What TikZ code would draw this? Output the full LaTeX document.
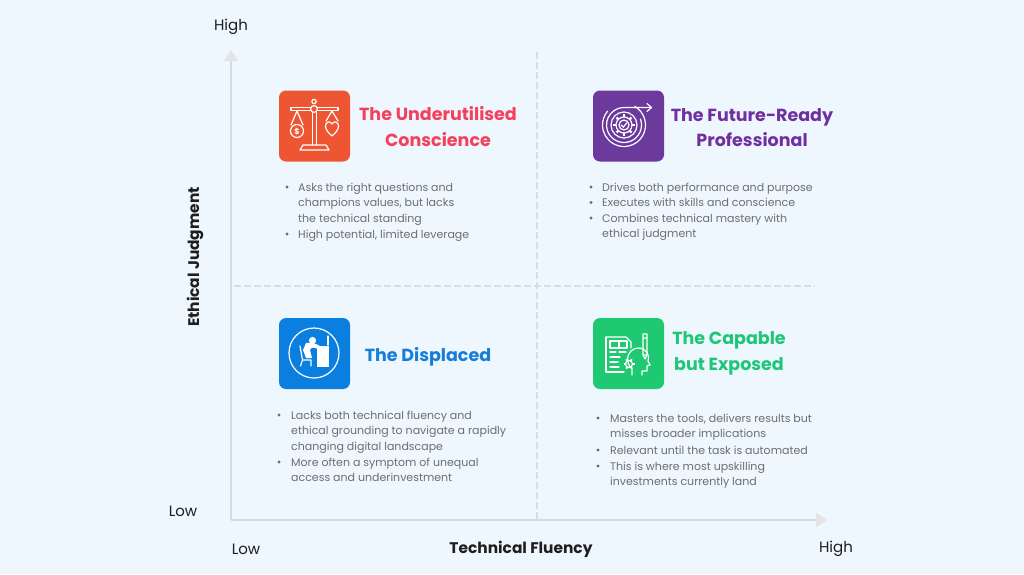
\documentclass[tikz,border=0pt]{standalone}
\usepackage{fontspec}
\setmainfont{Poppins}
\usetikzlibrary{arrows.meta}
\definecolor{bgc}{HTML}{EEF6FE}
\definecolor{axisc}{HTML}{D3DAE3}
\definecolor{tipc}{HTML}{E6E3E3}
\definecolor{dashc}{HTML}{D5DEE8}
\definecolor{txtc}{HTML}{6E6E6E}
\definecolor{labc}{HTML}{1E1E1E}
\definecolor{orbox}{HTML}{EE5532}
\definecolor{ortit}{HTML}{F4405B}
\definecolor{pubox}{HTML}{6C399D}
\definecolor{putit}{HTML}{7030A0}
\definecolor{blbox}{HTML}{0B7FDF}
\definecolor{bltit}{HTML}{167ED8}
\definecolor{grbox}{HTML}{1FC972}
\definecolor{grtit}{HTML}{1EC777}
\begin{document}
\begin{tikzpicture}[x=1pt,y=-1pt,
  axisline/.style={draw=axisc,line width=1.5pt,-{Triangle[length=11pt,width=14pt,color=tipc]}},
  quaddash/.style={draw=dashc,line width=1.2pt,dash pattern=on 7pt off 3pt},
  axlab/.style={text=labc,font=\fontsize{15}{18}\selectfont,inner sep=0pt},
  axtitle/.style={text=labc,font=\bfseries\fontsize{15.4}{18}\selectfont,inner sep=0pt},
  iconbox/.style={rounded corners=7pt,minimum width=71pt,minimum height=71pt,inner sep=0pt},
  qtitle/.style={font=\bfseries\fontsize{17.5}{25.5}\selectfont,align=center,inner sep=0pt},
  btext/.style={text=txtc,font=\fontsize{11}{15.7}\selectfont,align=left,anchor=base west,inner sep=0pt},
  bdot/.style={circle,fill=txtc,minimum size=3.2pt,inner sep=0pt},
  ic/.style={draw=white,line width=1.2pt,line cap=round,line join=round}
]
\useasboundingbox (0,0) rectangle (1024,574);
\fill[bgc] (0,0) rectangle (1024,574);

% axes
\coordinate (O) at (231,520);
\coordinate (ytip) at (231,50);
\coordinate (xtip) at (827,520);
\draw[quaddash] (537,52) coordinate (vd1) -- (537,519) coordinate (vd2);
\draw[quaddash] (234,286) coordinate (hd1) -- (815,286) coordinate (hd2);
\draw[axisline] (O) -- (ytip);
\draw[axisline] (O) -- (xtip);

\node[axlab] (yhigh) at (231,27) {High};
\node[axlab] (ylow) at (183,511) {Low};
\node[axlab] (xlow) at (246,549) {Low};
\node[axlab] (xhigh) at (836,549) {High};
\node[axtitle] (xtitle) at (521,549) {Technical Fluency};
\node[axtitle,rotate=90] (ytitle) at (195,257) {Ethical Judgment};

% icon boxes
\node[iconbox,fill=orbox] (box1) at (314.5,126) {};
\node[iconbox,fill=pubox] (box2) at (628.5,126) {};
\node[iconbox,fill=blbox] (box3) at (314.5,353.5) {};
\node[iconbox,fill=grbox] (box4) at (628.5,353.5) {};

% titles
\node[qtitle,text=ortit] (t1) at (438,126.5) {The Underutilised\\Conscience};
\node[qtitle,text=putit] (t2) at (752,127.5) {The Future-Ready\\Professional};
\node[qtitle,text=bltit] (t3) at (428,357) {The Displaced};
\node[qtitle,text=grtit] (t4) at (729,353.5) {The Capable\\but Exposed};

% bullets Q1 (anchor = baseline of last line)
\node[bdot] (d11) at (287,187) {};
\node[btext] (b11) at (298,222.4) {Asks the right questions and\\champions values, but lacks\\the technical standing};
\node[bdot] (d12) at (287,234) {};
\node[btext] (b12) at (298,238) {High potential, limited leverage};
% Q2
\node[bdot] (d21) at (591,187) {};
\node[btext] (b21) at (602,191) {Drives both performance and purpose};
\node[bdot] (d22) at (591,202.5) {};
\node[btext] (b22) at (602,206.5) {Executes with skills and conscience};
\node[bdot] (d23) at (591,218) {};
\node[btext] (b23) at (602,237.7) {Combines technical mastery with\\ethical judgment};
% Q3
\node[bdot] (d31) at (279,415) {};
\node[btext] (b31) at (291,450.4) {Lacks both technical fluency and\\ethical grounding to navigate a rapidly\\changing digital landscape};
\node[bdot] (d32) at (279,462) {};
\node[btext] (b32) at (291,481.7) {More often a symptom of unequal\\access and underinvestment};
% Q4
\node[bdot] (d41) at (598,418) {};
\node[btext] (b41) at (610,437.7) {Masters the tools, delivers results but\\misses broader implications};
\node[bdot] (d42) at (598,450) {};
\node[btext] (b42) at (610,454) {Relevant until the task is automated};
\node[bdot] (d43) at (598,466) {};
\node[btext] (b43) at (610,485.7) {This is where most upskilling\\investments currently land};

% ---- icon 1: scale
\draw[ic] (314,101.5) circle (2.2);
\draw[ic] (291,107.5) rectangle (338,110.5);
\draw[ic,fill=orbox] (314,109) circle (3.4);
\draw[ic] (312.5,112.5) -- (312.5,145) (316.5,112.5) -- (316.5,145);
\draw[ic] (303,145) -- (326,145) -- (329,150) -- (300,150) -- cycle;
\draw[ic] (297,111) -- (291,125) (297,111) -- (303,125);
\draw[ic] (297,131) circle (6.5);
\node[text=white,font=\fontsize{8}{8}\selectfont\bfseries,inner sep=0pt] (dollar) at (297,131.5) {\$};
\draw[ic] (332,111) -- (326,121) (332,111) -- (338,121);
\draw[ic] (332,136) .. controls (328,132.5) and (325.5,129.5) .. (325.5,126) .. controls (325.5,121.5) and (330.5,120.5) .. (332,124) .. controls (333.5,120.5) and (338.5,121.5) .. (338.5,126) .. controls (338.5,129.5) and (336,132.5) .. (332,136);

% ---- icon 2: gear spiral
\draw[ic] (624,125) circle (5);
\draw[ic] (621.3,125) -- (623.3,127.2) -- (626.8,122.8);
\draw[ic] (624,125) circle (8);
\foreach \a in {0,45,...,315} \draw[white,line width=2.3pt] (624,125) ++(\a:8) -- ++(\a:2.6);
\draw[ic] (624,125) circle (13);
\draw[ic] (624,125) ++(-20:17.5) arc (-20:270:17.5) -- (651,107.5);
\draw[ic] (647,103.5) -- (651.5,107.5) -- (647,111.5);
\draw[ic] (624,125) ++(-60:21.5) arc (-60:220:21.5);

% ---- icon 3: displaced
\draw[ic] (314,353) circle (25);
\fill[white] (317,346) rectangle (329,367);
\draw[ic] (328,336) -- (328,345);
\fill[white] (312.5,340.5) circle (3.6);
\fill[white] (306,343) .. controls (312,342) and (318,344) .. (321,347) -- (318,349) .. controls (314,347) and (311,347) .. (310,350) -- (312,358) -- (306,358) -- (303,350) -- cycle;
\draw[ic] (300,346) -- (302.5,360) -- (300.5,366) (302.5,360) -- (311,360) -- (311,366);

% ---- icon 4: document + head
\draw[ic] (606,337) -- (626,337) -- (631,342) -- (631,348);
\draw[ic] (606,337) -- (606,372) -- (624,372);
\draw[ic] (610,341) rectangle (627,348) (619,341) -- (619,348);
\draw[ic] (610,352) -- (616,352) (619,352) -- (626,352) (610,357) -- (620,357) (610,362) -- (618,362) (610,367) -- (619,367);
\draw[ic] (643,334) rectangle (647,355) (643,355) -- (645,359) -- (647,355) (643,338) -- (647,338);
\draw[ic] (632,375) -- (632,368) .. controls (625,364) and (626,349) .. (638,348) .. controls (647,348) and (650,356) .. (648,361) -- (650,365) -- (647,366) -- (647,371) -- (642,371) -- (642,375);
\draw[ic] (629,364) circle (3.5);
\foreach \a in {0,60,...,300} \draw[white,line width=1.8pt] (629,364) ++(\a:3.5) -- ++(\a:2);
\end{tikzpicture}
\end{document}
